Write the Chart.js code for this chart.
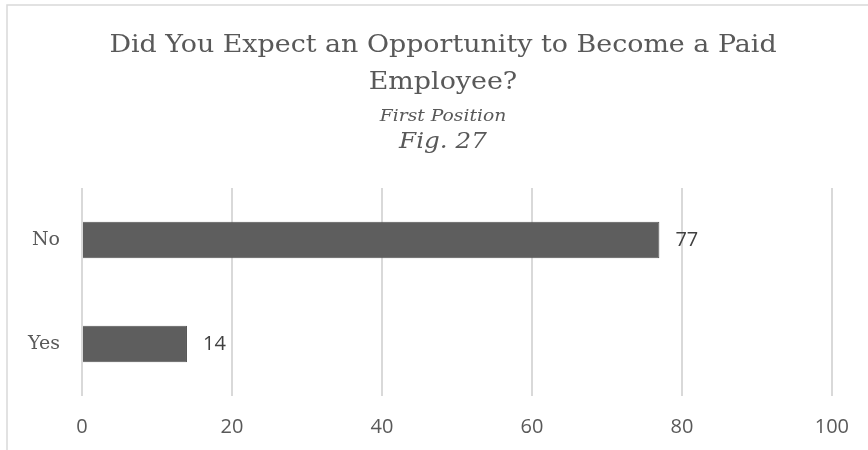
<!DOCTYPE html>
<html>
<head>
<meta charset="utf-8">
<script src="https://cdn.jsdelivr.net/npm/chart.js@4"></script>
<style>
  html, body { margin: 0; padding: 0; background: #ffffff; }
  #wrap { position: relative; width: 868px; height: 450px; }
</style>
</head>
<body>
<div id="wrap"><canvas id="chart" width="868" height="450"></canvas></div>
<script>
// Survey answers, first position
const categories = ['No', 'Yes'];
const counts = [77, 14];
const xTicks = [0, 20, 40, 60, 80, 100];

const titleLines = ['Did You Expect an Opportunity to Become a Paid', 'Employee?'];
const subtitleText = 'First Position';
const figureText = 'Fig. 27';

const SERIF = '"DejaVu Serif", "Liberation Serif", serif';
const SANS = '"Open Sans", "Liberation Sans", sans-serif';
const TEXT_GREY = '#595959';

// Outer frame of the chart object
const framePlugin = {
  id: 'frame',
  beforeDraw(chart) {
    const ctx = chart.ctx;
    ctx.save();
    ctx.fillStyle = '#ffffff';
    ctx.fillRect(0, 0, chart.width, chart.height);
    ctx.strokeStyle = '#d9d9d9';
    ctx.lineWidth = 1.5;
    ctx.beginPath();
    ctx.moveTo(7, chart.height + 2);
    ctx.lineTo(7, 5);
    ctx.lineTo(chart.width + 2, 5);
    ctx.stroke();
    ctx.restore();
  }
};

// Draw a centred line of wide serif text (glyphs widened horizontally)
function wideText(ctx, text, cx, baseline, font, stretch) {
  ctx.save();
  ctx.font = font;
  ctx.translate(cx, baseline);
  ctx.scale(stretch, 1);
  ctx.fillText(text, 0, 0);
  ctx.restore();
}

// Title block: two-line heading, italic subtitle and figure number
const headingPlugin = {
  id: 'heading',
  afterDraw(chart) {
    const ctx = chart.ctx;
    const cx = 443;
    ctx.save();
    ctx.fillStyle = TEXT_GREY;
    ctx.textAlign = 'center';
    ctx.textBaseline = 'alphabetic';
    wideText(ctx, titleLines[0], cx, 52, '24px ' + SERIF, 1.12);
    wideText(ctx, titleLines[1], cx, 89, '24px ' + SERIF, 1.12);
    wideText(ctx, subtitleText, cx, 121, 'italic 17px ' + SERIF, 1.1);
    wideText(ctx, figureText, cx, 148, 'italic 22px ' + SERIF, 1.12);
    ctx.restore();
  }
};

// Value labels to the right of each bar
const valueLabelPlugin = {
  id: 'valueLabels',
  afterDatasetsDraw(chart) {
    const ctx = chart.ctx;
    const meta = chart.getDatasetMeta(0);
    ctx.save();
    ctx.fillStyle = '#404040';
    ctx.font = '20px ' + SANS;
    ctx.textAlign = 'left';
    ctx.textBaseline = 'middle';
    meta.data.forEach((bar, i) => {
      ctx.fillText(String(counts[i]), bar.x + 16, bar.y);
    });
    ctx.restore();
  }
};

new Chart(document.getElementById('chart'), {
  type: 'bar',
  data: {
    labels: categories,
    datasets: [{
      data: counts,
      backgroundColor: '#5e5e5e',
      borderColor: '#555555',
      borderWidth: 1,
      categoryPercentage: 1,
      barPercentage: 0.35
    }]
  },
  options: {
    indexAxis: 'y',
    responsive: false,
    animation: false,
    events: [],
    layout: { padding: { top: 188, right: 34, left: 0, bottom: 0 } },
    plugins: {
      legend: { display: false },
      title: { display: false },
      tooltip: { enabled: false }
    },
    scales: {
      x: {
        min: 0,
        max: 100,
        afterBuildTicks(scale) { scale.ticks = xTicks.map(v => ({ value: v })); },
        afterFit(scale) { scale.height = 54; },
        grid: { color: '#d9d9d9', lineWidth: 2, drawTicks: false },
        border: { display: false },
        ticks: {
          padding: 19,
          color: TEXT_GREY,
          font: { family: SANS, size: 20 }
        }
      },
      y: {
        afterFit(scale) { scale.width = 82; },
        grid: { display: false },
        border: { display: false },
        ticks: {
          padding: 14,
          color: TEXT_GREY,
          font: { family: SERIF, size: 19 }
        }
      }
    }
  },
  plugins: [framePlugin, headingPlugin, valueLabelPlugin]
});
</script>
</body>
</html>
